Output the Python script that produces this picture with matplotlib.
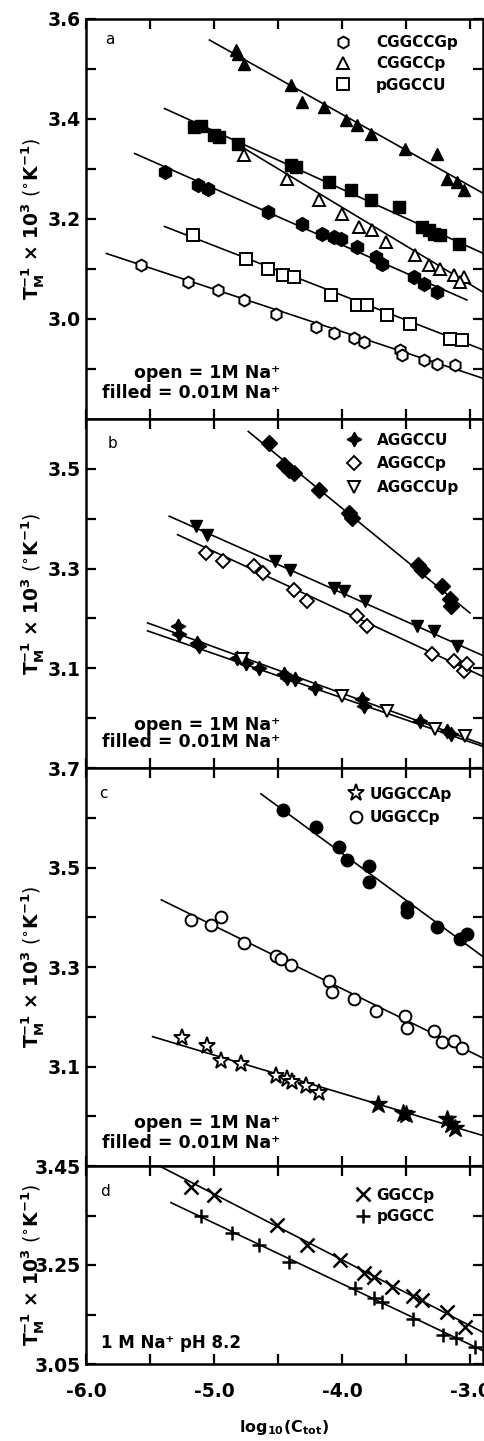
import numpy as np
import matplotlib
matplotlib.use("Agg")
import matplotlib.pyplot as plt

plt.rcParams["font.family"] = ["DejaVu Sans"]
plt.rcParams["font.weight"] = "bold"
plt.rcParams["mathtext.default"] = "bf"

# ---- panel a: CGGCCGp (hexagons), CGGCCp (triangles), pGGCCU (squares)
a_hex_open_x = [-5.568, -5.205, -4.971, -4.764, -4.518, -4.206, -4.064, -3.909,
                -3.830, -3.545, -3.532, -3.363, -3.259, -3.117]
a_hex_open_y = [3.108, 3.075, 3.058, 3.039, 3.011, 2.985, 2.973, 2.963,
                2.955, 2.938, 2.928, 2.918, 2.911, 2.908]
a_hex_fill_x = [-5.387, -5.127, -5.049, -4.582, -4.310, -4.154, -4.064, -4.012,
                -3.882, -3.739, -3.687, -3.441, -3.363, -3.259]
a_hex_fill_y = [3.295, 3.268, 3.261, 3.215, 3.191, 3.171, 3.165, 3.161,
                3.145, 3.125, 3.111, 3.085, 3.071, 3.055]
a_tri_open_x = [-4.764, -4.427, -4.181, -3.999, -3.869, -3.765, -3.661, -3.428,
                -3.324, -3.233, -3.130, -3.052, -3.078]
a_tri_open_y = [3.328, 3.281, 3.238, 3.211, 3.185, 3.178, 3.155, 3.128,
                3.108, 3.101, 3.088, 3.085, 3.075]
a_tri_fill_x = [-4.829, -4.816, -4.764, -4.401, -4.310, -4.142, -3.973, -3.882,
                -3.778, -3.506, -3.259, -3.181, -3.104, -3.052]
a_tri_fill_y = [3.538, 3.531, 3.511, 3.468, 3.435, 3.425, 3.398, 3.388,
                3.371, 3.341, 3.331, 3.281, 3.275, 3.258]
a_sq_open_x = [-5.166, -4.751, -4.582, -4.458, -4.375, -4.089, -3.882, -3.804,
               -3.648, -3.467, -3.156, -3.066]
a_sq_open_y = [3.168, 3.121, 3.101, 3.088, 3.085, 3.048, 3.028, 3.028,
               3.008, 2.991, 2.961, 2.958]
a_sq_fill_x = [-5.153, -5.101, -4.997, -4.959, -4.816, -4.401, -4.362, -4.103,
               -3.934, -3.778, -3.558, -3.376, -3.324, -3.285, -3.233, -3.091]
a_sq_fill_y = [3.385, 3.386, 3.368, 3.365, 3.351, 3.308, 3.305, 3.275,
               3.258, 3.238, 3.225, 3.185, 3.178, 3.171, 3.168, 3.151]
# fitted lines: start x, end x, start y, end y
a_fit_x0 = [-5.840, -5.620, -4.854, -5.036, -5.387, -5.387]
a_fit_x1 = [-2.896, -3.026, -2.883, -2.896, -2.896, -2.896]
a_fit_y0 = [3.131, 3.331, 3.355, 3.558, 3.185, 3.421]
a_fit_y1 = [2.881, 3.038, 3.051, 3.251, 2.938, 3.131]

# ---- panel b: AGGCCU (4-point stars), AGGCCp (diamonds), AGGCCUp (down triangles)
b_star_x = [-5.285, -5.272, -5.130, -5.117, -4.819, -4.753, -4.650, -4.455,
            -4.430, -4.365, -4.209, -3.846, -3.833, -3.392, -3.185, -3.146]
b_star_y = [3.185, 3.168, 3.151, 3.145, 3.121, 3.111, 3.101, 3.088,
            3.081, 3.078, 3.061, 3.038, 3.025, 2.995, 2.975, 2.968]
b_dia_open_x = [-5.062, -4.932, -4.686, -4.621, -4.375, -4.271, -3.882, -3.804,
                -3.299, -3.130, -3.052, -3.026]
b_dia_open_y = [3.331, 3.315, 3.305, 3.291, 3.258, 3.235, 3.205, 3.185,
                3.128, 3.115, 3.095, 3.108]
b_dia_fill_x = [-4.572, -4.455, -4.416, -4.377, -4.183, -3.949, -3.924, -3.405,
                -3.379, -3.223, -3.158, -3.146]
b_dia_fill_y = [3.551, 3.508, 3.498, 3.491, 3.458, 3.411, 3.401, 3.308,
                3.298, 3.265, 3.238, 3.225]
b_tri_open_x = [-4.779, -4.002, -3.651, -3.276, -3.043]
b_tri_open_y = [3.118, 3.045, 3.015, 2.978, 2.965]
b_tri_fill_x = [-5.143, -5.052, -4.521, -4.404, -4.066, -3.988, -3.820, -3.415,
                -3.286, -3.104]
b_tri_fill_y = [3.385, 3.368, 3.315, 3.298, 3.261, 3.255, 3.235, 3.185,
                3.175, 3.145]
b_fit_x0 = [-4.733, -5.350, -5.285, -5.519, -5.519]
b_fit_x1 = [-3.002, -2.896, -2.896, -2.885, -2.885]
b_fit_y0 = [3.575, 3.405, 3.368, 3.191, 3.175]
b_fit_y1 = [3.211, 3.125, 3.083, 2.946, 2.942]

# ---- panel c: UGGCCAp (stars), UGGCCp (circles)
c_circ_open_x = [-5.179, -5.023, -4.946, -4.764, -4.518, -4.479, -4.401, -4.103,
                 -4.076, -3.909, -3.739, -3.506, -3.493, -3.285, -3.220, -3.130,
                 -3.066]
c_circ_open_y = [3.394, 3.385, 3.400, 3.348, 3.323, 3.316, 3.305, 3.271,
                 3.249, 3.236, 3.211, 3.202, 3.178, 3.172, 3.150, 3.152,
                 3.138]
c_circ_fill_x = [-4.465, -4.206, -4.025, -3.960, -3.791, -3.791, -3.493, -3.493,
                 -3.259, -3.078, -3.026]
c_circ_fill_y = [3.615, 3.582, 3.541, 3.515, 3.504, 3.471, 3.420, 3.410,
                 3.380, 3.357, 3.367]
c_star_open_x = [-5.247, -5.052, -4.948, -4.792, -4.520, -4.430, -4.391, -4.286,
                 -4.183]
c_star_open_y = [3.158, 3.142, 3.111, 3.105, 3.081, 3.074, 3.068, 3.061,
                 3.047]
c_star_fill_x = [-3.716, -3.521, -3.498, -3.185, -3.150, -3.119]
c_star_fill_y = [3.024, 3.007, 3.004, 2.994, 2.984, 2.977]
c_fit_x0 = [-4.634, -5.412, -5.480]
c_fit_x1 = [-2.896, -2.885, -2.885]
c_fit_y0 = [3.648, 3.435, 3.160]
c_fit_y1 = [3.320, 3.115, 2.960]

# ---- panel d: GGCCp (x), pGGCC (+)
d_x_x = [-5.182, -5.000, -4.507, -4.274, -4.014, -3.833, -3.755, -3.612,
         -3.444, -3.379, -3.185, -3.042]
d_x_y = [3.408, 3.391, 3.331, 3.290, 3.260, 3.233, 3.225, 3.206,
         3.187, 3.179, 3.156, 3.125]
d_p_x = [-5.104, -4.858, -4.650, -4.416, -3.897, -3.755, -3.690, -3.444,
         -3.210, -3.107, -2.964]
d_p_y = [3.348, 3.314, 3.290, 3.257, 3.203, 3.183, 3.176, 3.140,
         3.109, 3.102, 3.085]
d_fit_x0 = [-5.441, -5.337]
d_fit_x1 = [-2.885, -2.885]
d_fit_y0 = [3.452, 3.376]
d_fit_y1 = [3.112, 3.075]

x_major = [-6.0, -5.0, -4.0, -3.0]
x_minor = [-5.5, -4.5, -3.5]

fig = plt.figure(figsize=(4.85, 14.41), dpi=100)
W = 485.0
H = 1441.0
left, right = 86, 483
panel_px = [(19, 419), (419, 768), (768, 1166), (1166, 1364)]
ylims = [(2.8, 3.6), (2.9, 3.6), (2.9, 3.7), (3.05, 3.45)]
majors = [[3.0, 3.2, 3.4, 3.6], [3.1, 3.3, 3.5], [3.1, 3.3, 3.5, 3.7],
          [3.05, 3.25, 3.45]]
minors = [[2.9, 3.1, 3.3, 3.5], [3.0, 3.2, 3.4], [3.0, 3.2, 3.4, 3.6],
          [3.15, 3.35]]
fmts = ["%.1f", "%.1f", "%.1f", "%.2f"]

axes = []
for i, (top, bot) in enumerate(panel_px):
    ax = fig.add_axes([left / W, 1 - bot / H, (right - left) / W, (bot - top) / H])
    ax.set_xlim(-6.0, -2.9)
    ax.set_ylim(*ylims[i])
    ax.set_yticks(majors[i])
    ax.set_yticks(minors[i], minor=True)
    ax.set_yticklabels([fmts[i] % v for v in majors[i]], fontweight="bold")
    ax.set_xticks(x_major)
    ax.set_xticklabels(["%.1f" % v for v in x_major], fontweight="bold")
    ax.set_xticks(x_minor, minor=True)
    ax.tick_params(which="both", direction="in", top=True, right=True,
                   length=7, width=1.6, labelsize=13.5, pad=4)
    ax.tick_params(axis="x", which="both", pad=13)
    if i < 3:
        ax.tick_params(axis="x", labelbottom=False)
    for sp in ax.spines.values():
        sp.set_linewidth(1.8)
    ax.set_ylabel(r"$T_M^{-1}$ $\times$ $10^3$ ($^{\circ}K^{-1}$)", fontsize=13.5)
    ax.yaxis.set_label_coords(-0.10, 0.5)
    axes.append(ax)

ax_a, ax_b, ax_c, ax_d = axes
lw = 1.2
ms = 8.5
k = "black"


def fits(ax, x0, x1, y0, y1):
    for i in range(len(x0)):
        ax.plot([x0[i], x1[i]], [y0[i], y1[i]], color=k, lw=lw, zorder=2)


# panel a
fits(ax_a, a_fit_x0, a_fit_x1, a_fit_y0, a_fit_y1)
ax_a.plot(a_hex_open_x, a_hex_open_y, "h", ms=ms, mfc="white", mec=k, mew=1.4, ls="none", label="CGGCCGp")
ax_a.plot(a_tri_open_x, a_tri_open_y, "^", ms=ms, mfc="white", mec=k, mew=1.4, ls="none", label="CGGCCp")
ax_a.plot(a_sq_open_x, a_sq_open_y, "s", ms=ms - 0.5, mfc="white", mec=k, mew=1.4, ls="none", label="pGGCCU")
ax_a.plot(a_hex_fill_x, a_hex_fill_y, "h", ms=ms + 1.5, color=k, ls="none")
ax_a.plot(a_tri_fill_x, a_tri_fill_y, "^", ms=ms + 0.5, color=k, ls="none")
ax_a.plot(a_sq_fill_x, a_sq_fill_y, "s", ms=ms + 0.5, color=k, ls="none")

# panel b
fits(ax_b, b_fit_x0, b_fit_x1, b_fit_y0, b_fit_y1)
ax_b.plot(b_star_x, b_star_y, marker=(4, 1, 0), ms=ms + 2, color=k, ls="none", label="AGGCCU")
ax_b.plot(b_dia_open_x, b_dia_open_y, "D", ms=ms - 1, mfc="white", mec=k, mew=1.4, ls="none", label="AGGCCp")
ax_b.plot(b_tri_open_x, b_tri_open_y, "v", ms=ms, mfc="white", mec=k, mew=1.4, ls="none", label="AGGCCUp")
ax_b.plot(b_dia_fill_x, b_dia_fill_y, "D", ms=ms, color=k, ls="none")
ax_b.plot(b_tri_fill_x, b_tri_fill_y, "v", ms=ms + 0.5, color=k, ls="none")

# panel c
fits(ax_c, c_fit_x0, c_fit_x1, c_fit_y0, c_fit_y1)
ax_c.plot(c_star_open_x, c_star_open_y, "*", ms=ms + 4, mfc="white", mec=k, mew=1.4, ls="none", label="UGGCCAp")
ax_c.plot(c_circ_open_x, c_circ_open_y, "o", ms=ms, mfc="white", mec=k, mew=1.4, ls="none", label="UGGCCp")
ax_c.plot(c_star_fill_x, c_star_fill_y, "*", ms=ms + 5, color=k, ls="none")
ax_c.plot(c_circ_fill_x, c_circ_fill_y, "o", ms=ms + 0.5, color=k, ls="none")

# panel d
fits(ax_d, d_fit_x0, d_fit_x1, d_fit_y0, d_fit_y1)
ax_d.plot(d_x_x, d_x_y, "x", ms=ms + 1.5, mec=k, mew=1.8, ls="none", label="GGCCp")
ax_d.plot(d_p_x, d_p_y, "+", ms=ms + 1.5, mec=k, mew=1.8, ls="none", label="pGGCC")

# legend anchor (x, y), text pad, row spacing per panel
legend_opts = [(0.627, 0.96, 1.7, 0.42), (0.657, 0.961, 1.0, 0.58),
               (0.662, 0.953, 0.35, 0.55), (0.678, 0.891, 0.4, 0.42)]
for ax, (lx, ly, tp, ls_) in zip(axes, legend_opts):
    ax.legend(loc="upper left", bbox_to_anchor=(lx, ly), frameon=False,
              handlelength=1.0, handletextpad=tp, labelspacing=ls_,
              borderpad=0.0, borderaxespad=0.0, prop={"size": 11, "weight": "bold"})

panel_lab = [("a", 0.06, 0.948), ("b", 0.068, 0.931), ("c", 0.045, 0.937),
             ("d", 0.048, 0.869)]
for ax, (t, px, py) in zip(axes, panel_lab):
    ax.text(px, py, t, transform=ax.transAxes, fontsize=11, ha="center",
            va="center", fontweight="normal")

note_y = [(0.115, 0.065), (0.123, 0.0745), (0.108, 0.058)]
for ax, (y1, y2) in zip(axes[:3], note_y):
    ax.text(0.49, y1, "open = 1M Na\u207a", transform=ax.transAxes,
            ha="right", va="center", fontsize=12.5)
    ax.text(0.49, y2, "filled = 0.01M Na\u207a", transform=ax.transAxes,
            ha="right", va="center", fontsize=12.5)
ax_d.text(0.038, 0.106, "1 M Na\u207a pH 8.2", transform=ax_d.transAxes,
          ha="left", va="center", fontsize=12)

ax_d.set_xlabel(r"$log_{10}(C_{tot})$", fontsize=11.5, labelpad=12)

fig.savefig("out.png", dpi=100)
